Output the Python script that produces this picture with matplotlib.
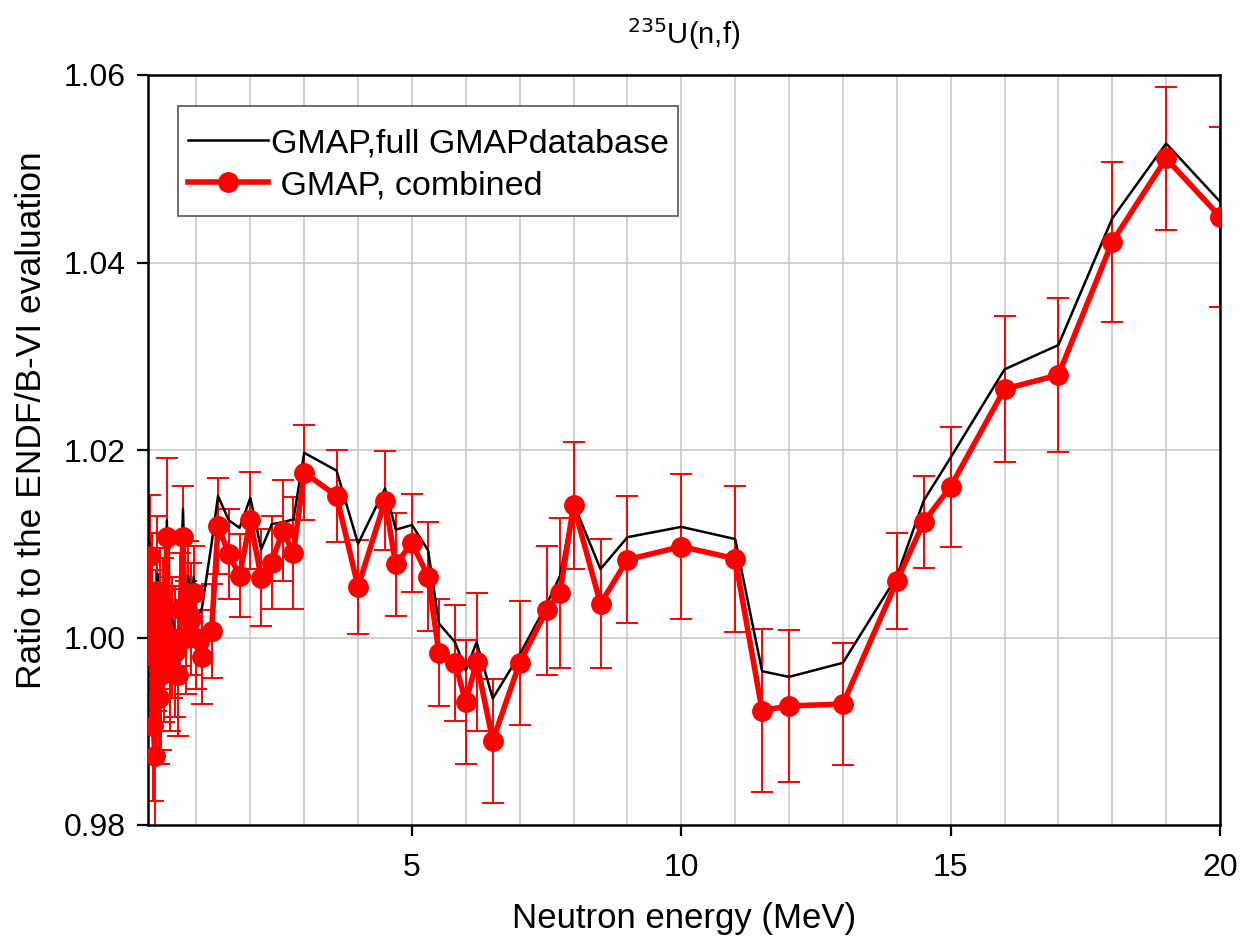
import matplotlib
matplotlib.use("Agg")
import matplotlib.pyplot as plt
from matplotlib.patches import Rectangle
from matplotlib.ticker import FixedLocator, FormatStrFormatter

plt.rcParams['font.family'] = ['Liberation Sans', 'DejaVu Sans']

# ---- data ----
energy = [0.13, 0.15, 0.175, 0.2, 0.225, 0.25, 0.275, 0.3, 0.325, 0.35, 0.375, 0.4,
          0.45, 0.5, 0.55, 0.6, 0.65, 0.7, 0.75, 0.8, 0.85, 0.9, 0.95, 1.0, 1.1, 1.28,
          1.4, 1.6, 1.8, 2.0, 2.2, 2.4, 2.6, 2.8, 3.0, 3.6, 4.0, 4.5, 4.7, 5.0, 5.3,
          5.5, 5.8, 6.0, 6.2, 6.5, 7.0, 7.5, 7.75, 8.0, 8.5, 9.0, 10.0, 11.0, 11.5,
          12.0, 13.0, 14.0, 14.5, 15.0, 16.0, 17.0, 18.0, 19.0, 20.0]

combined = [1.0087, 0.9980, 1.0036, 0.9906, 0.9874, 0.9997, 1.0050, 0.9935, 1.0020, 0.9960,
            1.0010, 0.9980, 1.0107, 0.9970, 1.0000, 0.9985, 0.9960, 1.0030, 1.0107, 1.0000,
            1.0048, 1.0020, 1.0048, 1.0000, 0.9979, 1.0007,
            1.0119, 1.0089, 1.0066, 1.0125, 1.0064, 1.0080, 1.0114, 1.0090, 1.0176, 1.0151,
            1.0054, 1.0146, 1.0078, 1.0101, 1.0065, 0.9984, 0.9973, 0.9931, 0.9974, 0.9890,
            0.9973, 1.0029, 1.0048, 1.0141, 1.0036, 1.0083, 1.0097, 1.0084, 0.9922, 0.9927,
            0.9929, 1.0060, 1.0123, 1.0161, 1.0265, 1.0280, 1.0422, 1.0511, 1.0449]

combined_err = [0.0065, 0.0070, 0.0075, 0.0080, 0.0085, 0.0075, 0.0080, 0.0070, 0.0075, 0.0080,
                0.0075, 0.0070, 0.0085, 0.0070, 0.0065, 0.0070, 0.0065, 0.0060, 0.0055, 0.0060,
                0.0055, 0.0060, 0.0050, 0.0055, 0.0050, 0.0050,
                0.0051, 0.0048, 0.0044, 0.0052, 0.0052, 0.0050, 0.0054, 0.0060, 0.0051, 0.0049,
                0.0050, 0.0053, 0.0055, 0.0052, 0.0058, 0.0057, 0.0062, 0.0066, 0.0074, 0.0066,
                0.0066, 0.0069, 0.0080, 0.0068, 0.0069, 0.0068, 0.0077, 0.0078, 0.0087, 0.0081,
                0.0065, 0.0051, 0.0049, 0.0064, 0.0078, 0.0082, 0.0085, 0.0076, 0.0096]

full_db = [1.0100, 1.0000, 1.0050, 0.9925, 0.9895, 1.0015, 1.0068, 0.9955, 1.0040, 0.9980,
           1.0030, 1.0000, 1.0125, 0.9990, 1.0020, 1.0005, 0.9980, 1.0050, 1.0137, 1.0020,
           1.0065, 1.0040, 1.0065, 1.0020, 1.0031, 1.0100,
           1.0151, 1.0125, 1.0117, 1.0149, 1.0094, 1.0121, 1.0123, 1.0126, 1.0197, 1.0178,
           1.0100, 1.0159, 1.0115, 1.0120, 1.0093, 1.0015, 0.9995, 0.9965, 0.9995, 0.9935,
           0.9982, 1.0035, 1.0066, 1.0143, 1.0073, 1.0107, 1.0118, 1.0105, 0.9964, 0.9958,
           0.9973, 1.0065, 1.0146, 1.0192, 1.0286, 1.0312, 1.0447, 1.0527, 1.0465]

x_ticks = [5, 10, 15, 20]
x_grid = list(range(1, 20))
y_ticks = [0.98, 1.00, 1.02, 1.04, 1.06]
y_grid = [1.00, 1.02, 1.04]

# ---- figure ----
W, H = 1241, 940
fig = plt.figure(figsize=(W / 100, H / 100), dpi=100)
ax = fig.add_axes([148/W, 1-825/H, (1220-148)/W, (825-75)/H])

ax.set_xlim(0.1, 20)
ax.set_ylim(0.98, 1.06)

for gx in x_grid:
    ax.axvline(gx, color='#c8c8c8', lw=1.2, zorder=0)
for gy in y_grid:
    ax.axhline(gy, color='#c8c8c8', lw=1.2, zorder=0)

ax.plot(energy, full_db, color='black', lw=1.8, zorder=3,
        label='GMAP,full GMAPdatabase')
ax.errorbar(energy, combined, yerr=combined_err, fmt='none', ecolor='red',
            elinewidth=1.4, capsize=8, capthick=1.4, zorder=2)
ax.plot(energy, combined, color='red', lw=4, marker='o', markersize=14,
        markerfacecolor='red', markeredgecolor='red', zorder=4,
        label=' GMAP, combined')

ax.xaxis.set_major_locator(FixedLocator(x_ticks))
ax.yaxis.set_major_locator(FixedLocator(y_ticks))
ax.yaxis.set_major_formatter(FormatStrFormatter('%.2f'))
ax.tick_params(axis='both', direction='out', length=8, width=1.6, labelsize=23, pad=8)
ax.tick_params(axis='x', pad=12)

for sp in ax.spines.values():
    sp.set_linewidth(1.8)
    sp.set_color('black')

ax.set_xlabel('Neutron energy (MeV)', fontsize=25, labelpad=14)
ax.set_ylabel('Ratio to the ENDF/B-VI evaluation', fontsize=25.5, labelpad=14)
ax.yaxis.set_label_coords(-0.093, 0.54)
ax.set_title(r'$^{235}$U(n,f)', fontsize=21, pad=22)

# legend box (white, thin dark-grey frame)
box = Rectangle((178/W, 1-216/H), 500/W, 110/H, transform=fig.transFigure,
                facecolor='white', edgecolor='#555555', lw=1.2, zorder=5)
ax.add_patch(box)
box.set_clip_on(False)

leg = ax.legend(loc='upper left', bbox_to_anchor=(0.028, 0.942), fontsize=24.5,
                frameon=False, handlelength=2.35, handletextpad=0.1,
                borderpad=0.28, labelspacing=0.33, borderaxespad=0)
leg.set_zorder(6)

fig.savefig('out.png', dpi=100)
